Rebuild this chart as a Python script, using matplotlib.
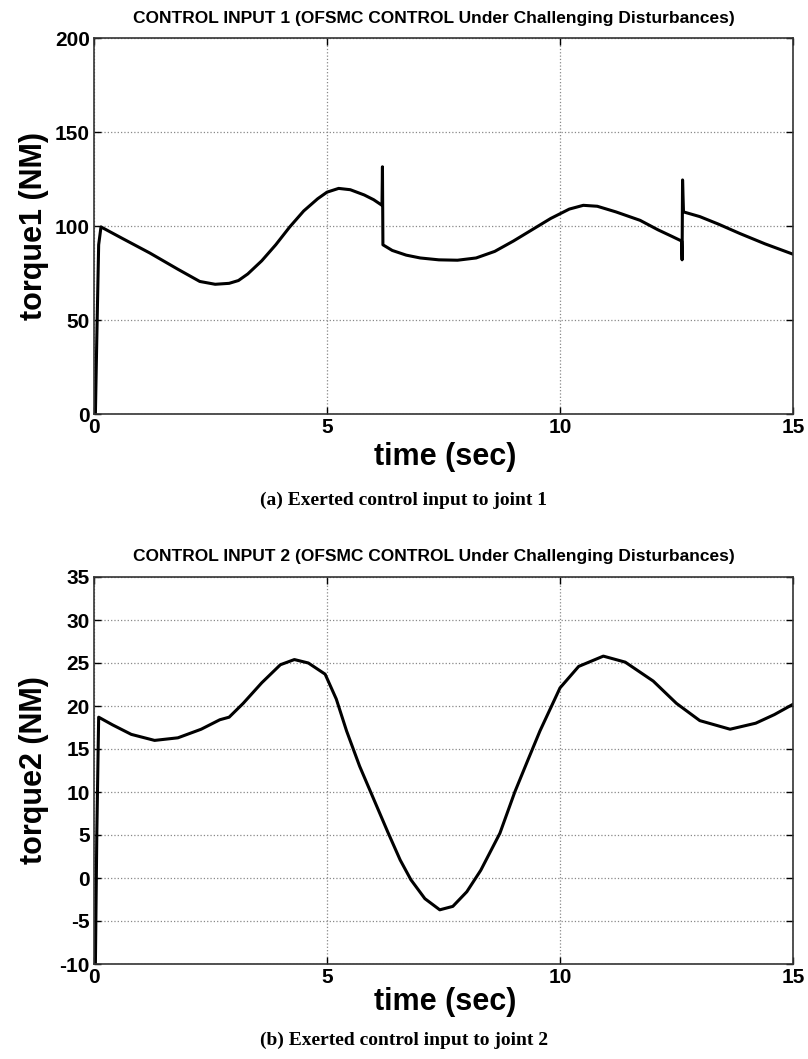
import numpy as np
import matplotlib
matplotlib.use("Agg")
import matplotlib.pyplot as plt

# torque of joint 1
t1 = [0, 0.03, 0.06, 0.1, 0.15, 0.6, 1.2, 1.8, 2.27, 2.6, 2.9, 3.1, 3.3, 3.6, 3.9,
      4.2, 4.5, 4.8, 5.0, 5.25, 5.5, 5.8, 6.0, 6.18, 6.19, 6.2, 6.4, 6.7, 7.0, 7.4,
      7.8, 8.2, 8.6, 9.0, 9.4, 9.8, 10.2, 10.5, 10.8, 11.2, 11.72, 12.1, 12.4,
      12.61, 12.62, 12.63, 12.65, 13.0, 13.4, 13.86, 14.4, 15.0]
torque1 = [0, 0, 40, 90, 99.5, 93.5, 85.6, 77, 70.5, 69, 69.5, 71, 74.5, 81.5, 90,
           99.5, 108, 114.5, 118, 120, 119.3, 116.5, 114, 111, 131.5, 90, 87, 84.5,
           83, 82, 81.8, 83, 86.5, 92, 98, 104, 109, 111, 110.5, 107.5, 103, 98,
           94.5, 92, 82, 124.5, 107.5, 105, 101, 96, 90.5, 85]

# torque of joint 2
t2 = [0, 0.03, 0.06, 0.1, 0.4, 0.8, 1.3, 1.8, 2.3, 2.7, 2.9, 3.2, 3.6, 4.0, 4.3,
      4.6, 4.96, 5.2, 5.42, 5.7, 6.0, 6.3, 6.57, 6.8, 7.1, 7.42, 7.7, 8.0, 8.3,
      8.71, 9.03, 9.31, 9.57, 10.0, 10.4, 10.93, 11.4, 12.0, 12.5, 13.0, 13.65,
      14.2, 14.6, 15.0]
torque2 = [-10, -10, 5, 18.7, 17.8, 16.7, 16.0, 16.3, 17.3, 18.4, 18.7, 20.3, 22.7,
           24.8, 25.4, 25.0, 23.7, 20.8, 17.1, 13.0, 9.2, 5.4, 2.1, -0.2, -2.4, -3.7,
           -3.3, -1.6, 0.9, 5.2, 10.0, 13.7, 17.1, 22.1, 24.6, 25.8, 25.1, 22.9, 20.3,
           18.3, 17.3, 18.0, 19.0, 20.2]

titles = ['CONTROL INPUT 1 (OFSMC CONTROL Under Challenging Disturbances)',
          'CONTROL INPUT 2 (OFSMC CONTROL Under Challenging Disturbances)']
ylabels = ['torque1 (NM)', 'torque2 (NM)']
captions = ['(a) Exerted control input to joint 1',
            '(b) Exerted control input to joint 2']
yticks = [np.arange(0, 201, 50), np.arange(-10, 36, 5)]
ylims = [(0, 200), (-10, 35)]

plt.rcParams['font.family'] = 'Liberation Sans'
plt.rcParams['font.weight'] = 'bold'
plt.rcParams['axes.unicode_minus'] = False

fig = plt.figure(figsize=(8.08, 10.59), dpi=100)
W, H = 808.0, 1059.0
boxes = [(94, 38, 793, 414), (94, 577, 793, 964)]
title_y = [18, 557]
cap_y = [500, 1040]
xlab_y = [457, 1002]

data = [(t1, torque1), (t2, torque2)]
for i in range(2):
    x0, y0, x1, y1 = boxes[i]
    ax = fig.add_axes([x0 / W, 1 - y1 / H, (x1 - x0) / W, (y1 - y0) / H])
    ax.plot(data[i][0], data[i][1], color='black', lw=2.2)
    ax.set_xlim(0, 15)
    ax.set_ylim(*ylims[i])
    ax.set_xticks([0, 5, 10, 15])
    ax.set_yticks(yticks[i])
    ax.grid(True, linestyle=':', color='#888888', lw=0.9)
    ax.tick_params(direction='in', top=True, right=True, length=5, width=1,
                   labelsize=15, pad=3)
    for lab in ax.get_xticklabels() + ax.get_yticklabels():
        lab.set_fontweight('bold')
    for s in ax.spines.values():
        s.set_linewidth(1.2)
        s.set_color('#333333')
    ax.set_ylabel(ylabels[i], fontsize=22, fontweight='bold')
    ax.yaxis.label.set_va('center')
    ax.yaxis.set_label_coords((34 - x0) / (x1 - x0), 0.5)
    ax.set_xlabel('time (sec)', fontsize=22, fontweight='bold')
    ax.xaxis.label.set_va('center')
    ax.xaxis.set_label_coords(0.5 + (445 - (x0 + x1) / 2) / (x1 - x0),
                              (y1 - xlab_y[i]) / (y1 - y0))
    fig.text(0.537, 1 - title_y[i] / H, titles[i], ha='center', va='center',
             fontsize=12.5, fontweight='bold')
    fig.text(0.5, 1 - cap_y[i] / H, captions[i], ha='center', va='center',
             fontsize=14, fontweight='bold', family='Liberation Serif')

fig.savefig('out.png', dpi=100)
plt.close(fig)
